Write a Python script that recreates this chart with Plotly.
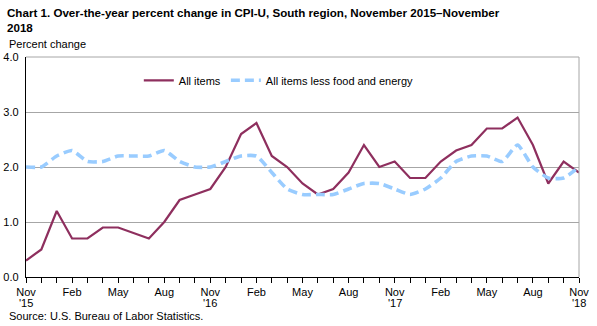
import plotly.graph_objects as go

months = ["Nov", "Dec", "Jan", "Feb", "Mar", "Apr", "May", "Jun", "Jul", "Aug", "Sep", "Oct"] * 3 + ["Nov"]
years = ["'15"] + [""] * 11 + ["'16"] + [""] * 11 + ["'17"] + [""] * 11 + ["'18"]

all_items = [0.3, 0.5, 1.2, 0.7, 0.7, 0.9, 0.9, 0.8, 0.7, 1.0, 1.4, 1.5,
             1.6, 2.0, 2.6, 2.8, 2.2, 2.0, 1.7, 1.5, 1.6, 1.9, 2.4, 2.0,
             2.1, 1.8, 1.8, 2.1, 2.3, 2.4, 2.7, 2.7, 2.9, 2.4, 1.7, 2.1,
             1.9]
core = [2.0, 2.0, 2.2, 2.3, 2.1, 2.1, 2.2, 2.2, 2.2, 2.3, 2.1, 2.0,
        2.0, 2.1, 2.2, 2.2, 1.9, 1.6, 1.5, 1.5, 1.5, 1.6, 1.7, 1.7,
        1.6, 1.5, 1.6, 1.8, 2.1, 2.2, 2.2, 2.1, 2.4, 2.0, 1.8, 1.8,
        2.0]
y_ticks = [0.0, 1.0, 2.0, 3.0, 4.0]

idx = list(range(len(all_items)))
ticktext = [m if i % 3 == 0 else "" for i, m in enumerate(months)]

fig = go.Figure()
fig.add_trace(go.Scatter(x=idx, y=all_items, mode="lines", name="All items",
                         line=dict(color="#8E2F5E", width=2.2)))
fig.add_trace(go.Scatter(x=idx, y=core, mode="lines", name="All items less food and energy",
                         line=dict(color="#99CCFF", width=3.6, dash="9px,5px",
                                   shape="spline", smoothing=0.5)))

annotations = [
    dict(text="<b>Chart 1. Over-the-year percent change in CPI-U, South region, November 2015–November<br>2018</b>",
         xref="paper", yref="paper", x=-0.038, y=1.0, xanchor="left", yanchor="bottom",
         yshift=21, showarrow=False, align="left",
         font=dict(size=11.6, family="Liberation Sans, Arial")),
    dict(text="Percent change", xref="paper", yref="paper", x=-0.035, y=1.0,
         xanchor="left", yanchor="bottom", yshift=5, showarrow=False,
         font=dict(size=11)),
    dict(text="Source: U.S. Bureau of Labor Statistics.", xref="paper", yref="paper",
         x=-0.035, y=0, xanchor="left", yanchor="top", yshift=-31, showarrow=False,
         font=dict(size=11)),
]
for i, yr in enumerate(years):
    if yr:
        annotations.append(dict(text=yr, x=idx[i], xref="x", y=0, yref="paper",
                                yanchor="top", xanchor="center", yshift=-18,
                                showarrow=False, font=dict(size=11)))

fig.update_layout(
    width=597, height=326,
    margin=dict(l=26, r=18, t=57, b=49),
    paper_bgcolor="white", plot_bgcolor="white",
    font=dict(family="Liberation Sans, Arial", size=11, color="black"),
    showlegend=True,
    legend=dict(orientation="h", x=0.204, y=0.96, xanchor="left", yanchor="top",
                bgcolor="rgba(0,0,0,0)", font=dict(size=11), itemwidth=30,
                traceorder="normal"),
    xaxis=dict(range=[0, 36], tickmode="array", tickvals=idx, ticktext=ticktext,
               ticks="outside", ticklen=5, tickcolor="black", tickwidth=1,
               showline=True, linecolor="black", linewidth=1.3, showgrid=False,
               mirror=False, zeroline=False, tickangle=0, automargin=False),
    yaxis=dict(range=[0, 4], tickmode="array", tickvals=y_ticks,
               ticktext=[f"{v:.1f}" for v in y_ticks],
               showline=True, linecolor="black", linewidth=1.3,
               showgrid=True, gridcolor="#A6A6A6", gridwidth=1,
               zeroline=False, ticks="", ticklabelstandoff=4, automargin=False),
    annotations=annotations,
    shapes=[
        dict(type="line", xref="paper", yref="paper", x0=0, x1=1, y0=1, y1=1,
             line=dict(color="#A6A6A6", width=1)),
        dict(type="line", xref="paper", yref="paper", x0=1, x1=1, y0=0, y1=1,
             line=dict(color="#A6A6A6", width=1)),
    ],
)

fig.write_html("out.html")
